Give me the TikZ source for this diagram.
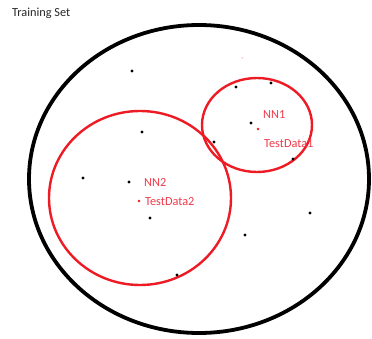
\documentclass[tikz,border=0pt]{standalone}
\usepackage{fontspec}
\setmainfont{Carlito}
\definecolor{pred}{HTML}{ED1C24}
\definecolor{tred}{HTML}{F03A4A}
\tikzset{
  dot/.style={circle,fill=black,inner sep=0pt,minimum size=3.2pt},
  rdot/.style={circle,fill=pred,inner sep=0pt,minimum size=2.6pt},
  lbl/.style={text=tred,font=\fontsize{12.3}{14}\selectfont,inner sep=0pt,anchor=west}
}
\begin{document}
\begin{tikzpicture}[x=1pt,y=-1pt]
\useasboundingbox (0,0) rectangle (372,339);
\node[anchor=west,inner sep=0pt,text=black!85,font=\fontsize{12.3}{14}\selectfont] (title) at (12,13) {Training Set};
\draw[line width=3.8pt] (199,179) ellipse [x radius=170,y radius=154];
\draw[pred,line width=2.4pt] (140,198) ellipse [x radius=91,y radius=87];
\draw[pred,line width=2.4pt] (257,125) ellipse [x radius=55,y radius=47];
% black points
\node[dot] (p1) at (132,71) {};
\node[dot] (p2) at (236,87) {};
\node[dot] (p3) at (271,83) {};
\node[dot] (p4) at (251,123) {};
\node[dot] (p5) at (214,142) {};
\node[dot] (p6) at (293,159) {};
\node[dot] (p7) at (142,132) {};
\node[dot] (p8) at (83,178) {};
\node[dot] (p9) at (129,182) {};
\node[dot] (p10) at (150,218) {};
\node[dot] (p11) at (177,275) {};
\node[dot] (p12) at (310,213) {};
\node[dot] (p13) at (245,235) {};
% red points
\node[rdot] (t1) at (258,129) {};
\node[rdot] (t2) at (139,201) {};
\node[circle,fill=pred,inner sep=0pt,minimum size=1pt] (t0) at (242,58) {};
% labels
\node[lbl] (nn1) at (263,115) {NN1};
\node[lbl] (td1) at (264,144) {TestData1};
\node[lbl] (nn2) at (144,183) {NN2};
\node[lbl] (td2) at (145,202) {TestData2};
\end{tikzpicture}
\end{document}
